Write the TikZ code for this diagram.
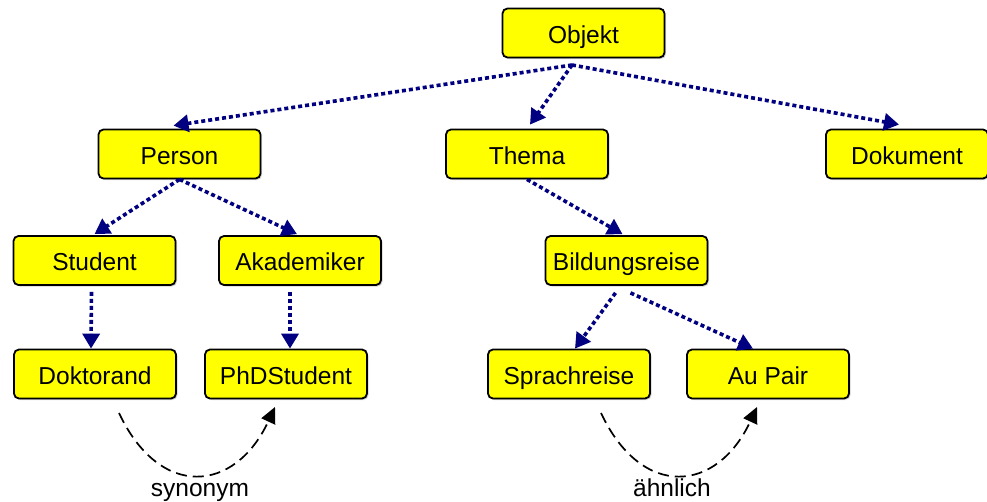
\documentclass[tikz,border=0pt]{standalone}
\usepackage{fontspec}
\setmainfont{Liberation Sans}
\usetikzlibrary{arrows.meta,calc,shadows}
\definecolor{isanavy}{RGB}{0,0,128}
\definecolor{boxyellow}{RGB}{255,255,0}
\begin{document}
\begin{tikzpicture}[x=1pt,y=-1pt,
  concept/.style={draw=black, line width=1.8pt, fill=boxyellow,
    rounded corners=5pt, minimum width=162pt, minimum height=49pt,
    inner sep=0pt, text height=22pt, text depth=2pt,
    font=\fontsize{24.5}{29}\selectfont,
    drop shadow={shadow xshift=1.5pt, shadow yshift=-1.5pt, opacity=0.35, fill=gray}},
  isa/.style={draw=isanavy, line width=3.6pt, dash pattern=on 4pt off 3pt,
    -{Triangle[width=17pt,length=15pt]}},
  relation/.style={draw=black, line width=1.7pt, dash pattern=on 11pt off 6pt,
    -{Triangle[width=15pt,length=16pt]}},
  rellabel/.style={anchor=base, inner sep=0pt, font=\fontsize{24.5}{29}\selectfont}]

\useasboundingbox (0,0) rectangle (987,501);

% concept hierarchy
\node[concept] (objekt)   at (583.5,33)  {Objekt};
\node[concept] (person)   at (179.5,154) {Person};
\node[concept] (thema)    at (527,154)   {Thema};
\node[concept] (dokument) at (907,154)   {Dokument};
\node[concept] (student)  at (94.5,260.5) {Student};
\node[concept] (akad)     at (300,260.5) {Akademiker};
\node[concept] (bildung)  at (626.5,260.5) {Bildungsreise};
\node[concept] (doktor)   at (95,374)    {Doktorand};
\node[concept] (phd)      at (286,374)   {PhDStudent};
\node[concept] (sprach)   at (569,374)   {Sprachreise};
\node[concept] (aupair)   at (768,374)   {Au Pair};

% is-a links
\coordinate (objroot) at (572,65);
\draw[isa] (objroot) -- ($(person.north)+(-6,-3)$);
\draw[isa] (objroot) -- ($(thema.north)+(3,-4)$);
\draw[isa] (objroot) -- ($(dokument.north)+(-8,-4)$);
\draw[isa] (person.south) -- ($(student.north)+(0,-1)$);
\draw[isa] (person.south) -- ($(akad.north)+(-3,-1)$);
\draw[isa] ($(student.south)+(-3,6)$) -- ($(doktor.north)+(-4,0)$);
\draw[isa] ($(akad.south)+(-10,6)$) -- ($(phd.north)+(4,0)$);
\draw[isa] (thema.south) -- ($(bildung.north)+(-4,-1)$);
\draw[isa] ($(bildung.south)+(-11,7)$) -- ($(sprach.north)+(6,0)$);
\draw[isa] ($(bildung.south)+(4,7)$) -- ($(aupair.north)+(-15,0)$);

% synonym / similarity relations
\coordinate (synA) at (119,413);
\coordinate (synB) at (275,407);
\draw[relation] (synA) .. controls (160,500) and (235,493) .. (synB);
\node[rellabel] (synlabel) at (200,496) {synonym};

\coordinate (simA) at (601,413);
\coordinate (simB) at (757,407);
\draw[relation] (simA) .. controls (642,500) and (717,493) .. (simB);
\node[rellabel] (simlabel) at (672,496) {ähnlich};
\end{tikzpicture}
\end{document}
